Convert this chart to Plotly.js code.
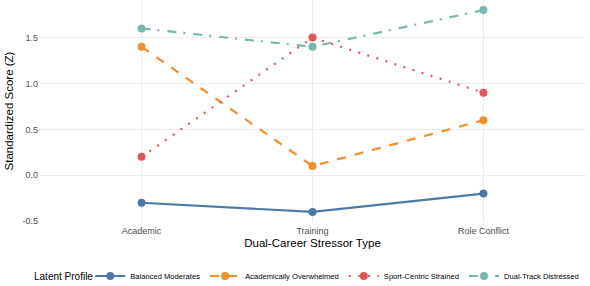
<!DOCTYPE html>
<html>
<head>
<meta charset="utf-8">
<script src="https://cdn.plot.ly/plotly-3.0.1.min.js"></script>
<style>
  html, body { margin: 0; padding: 0; background: #fff; }
  #chart { width: 590px; height: 286px; }
</style>
</head>
<body>
<div id="chart"></div>
<script>
// Stressor categories on the x axis
const stressors = ["Academic", "Training", "Role Conflict"];

// Mean standardized scores per latent profile
const balancedModerates = [-0.3, -0.4, -0.2];
const academicallyOverwhelmed = [1.4, 0.1, 0.6];
const sportCentricStrained = [0.2, 1.5, 0.9];
const dualTrackDistressed = [1.6, 1.4, 1.8];

const profileNames = ["Balanced Moderates", "Academically Overwhelmed", "Sport-Centric Strained", "Dual-Track Distressed"];
const profileValues = [balancedModerates, academicallyOverwhelmed, sportCentricStrained, dualTrackDistressed];
const profileColors = ["#4E79A7", "#F28E2B", "#E15759", "#76B7B2"];
// solid, dashed, dotted and dot-dash strokes
const profileDashes = ["solid", "9px,9px", "2px,7.5px", "9px,7px,2px,8px"];

const traces = profileNames.map((name, i) => ({
  type: "scatter",
  mode: "lines+markers",
  name: name,
  x: stressors,
  y: profileValues[i],
  line: { color: profileColors[i], width: 2.2, dash: profileDashes[i] },
  marker: { color: profileColors[i], size: 8 }
}));

const layout = {
  width: 590,
  height: 286,
  margin: { l: 39, r: 4, t: 0, b: 64 },
  paper_bgcolor: "#ffffff",
  plot_bgcolor: "#ffffff",
  font: { family: "Liberation Sans, Arial, sans-serif", color: "#4d4d4d", size: 9 },
  showlegend: true,
  xaxis: {
    type: "category",
    range: [-0.6, 2.6],
    showgrid: true,
    gridcolor: "#ebebeb",
    gridwidth: 1,
    zeroline: false,
    showline: false,
    ticks: "",
    ticklabelstandoff: 2,
    tickfont: { size: 9, color: "#4d4d4d" },
    title: { text: "Dual-Career Stressor Type", font: { size: 11.5, color: "#000000" }, standoff: 3 }
  },
  yaxis: {
    range: [-0.51, 1.91],
    tickvals: [-0.5, 0, 0.5, 1.0, 1.5],
    ticktext: ["-0.5", "0.0", "0.5", "1.0", "1.5"],
    showgrid: true,
    gridcolor: "#ebebeb",
    gridwidth: 1,
    zeroline: false,
    showline: false,
    ticks: "",
    tickfont: { size: 9, color: "#4d4d4d" },
    title: { text: "Standardized Score (Z)", font: { size: 11.5, color: "#000000" }, standoff: 6 }
  },
  legend: {
    orientation: "h",
    xref: "container",
    yref: "container",
    x: 0.153,
    xanchor: "left",
    y: 0.035,
    yanchor: "middle",
    font: { size: 7.6, color: "#000000" },
    itemwidth: 30,
    tracegroupgap: 0
  },
  // legend heading, set level with the legend row
  annotations: [{
    text: "Latent Profile",
    xref: "paper",
    yref: "paper",
    x: -0.012,
    y: -0.245,
    xanchor: "left",
    yanchor: "middle",
    showarrow: false,
    font: { size: 10, color: "#000000" }
  }]
};

Plotly.newPlot("chart", traces, layout, { displayModeBar: false, staticPlot: true });
</script>
</body>
</html>
